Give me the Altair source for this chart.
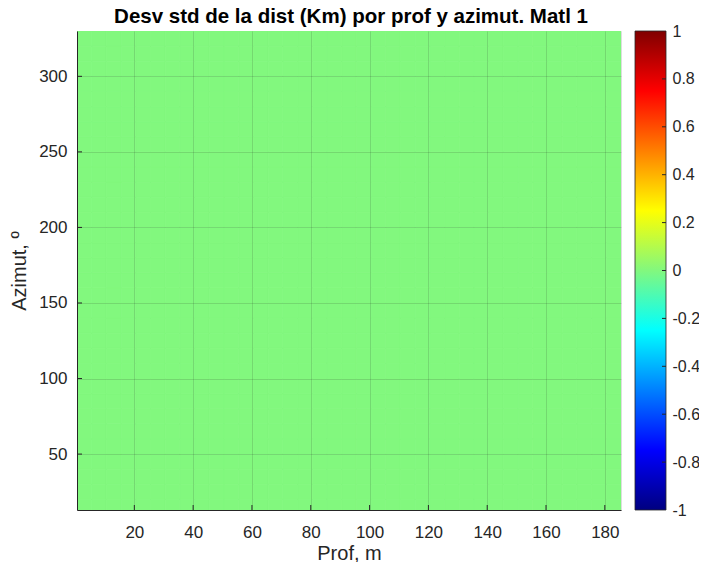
import altair as alt
import pandas as pd

# ---- data ----
chart_title = "Desv std de la dist (Km) por prof y azimut. Matl 1"
prof_edges = [0.5, 5.5, 10.5, 15.5, 20.5, 25.5, 30.5, 35.5, 40.5, 45.5, 50.5, 55.5,
              60.5, 65.5, 70.5, 75.5, 80.5, 85.5, 90.5, 95.5, 100.5, 105.5, 110.5,
              115.5, 120.5, 125.5, 130.5, 135.5, 140.5, 145.5, 150.5, 155.5, 160.5,
              165.5, 170.5, 175.5, 180.5, 185.5]
azim_edges = [10, 20, 30, 40, 50, 60, 70, 80, 90, 100, 110, 120, 130, 140, 150, 160,
              170, 180, 190, 200, 210, 220, 230, 240, 250, 260, 270, 280, 290, 300,
              310, 320, 330]
cell_value = 0.0          # every cell of the map reads 0 (uniform green)
x_ticks = [20, 40, 60, 80, 100, 120, 140, 160, 180]
y_ticks = [50, 100, 150, 200, 250, 300]
cbar_ticks = [-1, -0.8, -0.6, -0.4, -0.2, 0, 0.2, 0.4, 0.6, 0.8, 1]
cbar_range = [-1, 1]
jet_stops = [-1, -0.75, -0.25, 0, 0.25, 0.75, 1]
jet_colors = ["#000080", "#0000ff", "#00ffff", "#82f87e", "#ffff00", "#ff0000", "#800000"]
x_domain = [0.5, 185.5]
y_domain = [13, 330]

rows = []
for i in range(len(prof_edges) - 1):
    for j in range(len(azim_edges) - 1):
        rows.append({"x0": prof_edges[i], "x1": prof_edges[i + 1],
                     "y0": azim_edges[j], "y1": azim_edges[j + 1],
                     "v": cell_value, "vs": cell_value})
cells = pd.DataFrame(rows)

W, H = 544, 479
CB_X0, CB_W = 558, 31
FONT = "Liberation Sans"
TXT = "#262626"

xscale = alt.Scale(domain=x_domain, nice=False, zero=False)
yscale = alt.Scale(domain=y_domain, nice=False, zero=False)
cscale = alt.Scale(domain=jet_stops, range=jet_colors, interpolate="rgb")
sscale = alt.Scale(domain=jet_stops, range=jet_colors, interpolate="rgb")
cbscale = alt.Scale(domain=cbar_range, nice=False, zero=False)

xaxis = alt.Axis(title="Prof, m", values=x_ticks, ticks=False, zindex=1,
                 labelFontSize=17, titleFontSize=20, labelPadding=14,
                 titlePadding=3, labelColor=TXT, titleColor=TXT,
                 titleFontWeight="normal", grid=True, gridColor="#262626",
                 gridOpacity=0.15, domainColor=TXT, labelFont=FONT, titleFont=FONT)
yaxis = alt.Axis(title="Azimut, º", values=y_ticks, ticks=False, zindex=1,
                 labelFontSize=17, titleFontSize=20, labelPadding=10,
                 titlePadding=9, labelColor=TXT, titleColor=TXT,
                 titleFontWeight="normal", grid=True, gridColor="#262626",
                 gridOpacity=0.15, domainColor=TXT, labelFont=FONT, titleFont=FONT)

heat = alt.Chart(cells).mark_rect(strokeWidth=0.8, clip=True).encode(
    x=alt.X("x0:Q", scale=xscale, axis=xaxis),
    x2="x1:Q",
    y=alt.Y("y0:Q", scale=yscale, axis=yaxis),
    y2="y1:Q",
    fill=alt.Color("v:Q", scale=cscale, legend=None),
    stroke=alt.Stroke("vs:Q", scale=sscale, legend=None),
)

xt = alt.Chart(pd.DataFrame({"x0": x_ticks})).mark_rule(color=TXT, strokeWidth=1).encode(
    x=alt.X("x0:Q", scale=xscale, axis=xaxis),
    y=alt.value(H), y2=alt.value(H - 5),
)
yt = alt.Chart(pd.DataFrame({"yt": y_ticks})).mark_rule(color=TXT, strokeWidth=1).encode(
    y=alt.Y("yt:Q", scale=yscale, axis=None),
    x=alt.value(0), x2=alt.value(5),
)

# colour bar (jet), drawn as one rect with a gradient built from the colormap stops
grad = alt.LinearGradient(
    gradient="linear", x1=0, x2=0, y1=1, y2=0,
    stops=[alt.GradientStop(color=c, offset=(s - cbar_range[0]) / (cbar_range[1] - cbar_range[0]))
           for s, c in zip(jet_stops, jet_colors)],
)
cbar = alt.Chart(pd.DataFrame({"c0": [cbar_range[0]], "c1": [cbar_range[1]]})).mark_rect(
    fill=grad, stroke=TXT, strokeWidth=0.8
).encode(
    y=alt.Y("c0:Q", scale=cbscale,
            axis=alt.Axis(orient="right", offset=CB_X0 + CB_W - W, values=cbar_ticks,
                          ticks=False, domain=False, grid=False, title=None,
                          labelFontSize=16, labelPadding=6, labelColor=TXT,
                          labelFont=FONT, labelFlush=False, labelOverlap=False,
                          labelExpr="'' + datum.value")),
    y2="c1:Q",
    x=alt.value(CB_X0), x2=alt.value(CB_X0 + CB_W),
)
cbt = alt.Chart(pd.DataFrame({"ct": cbar_ticks[1:-1]})).mark_rule(color=TXT, strokeWidth=1).encode(
    y=alt.Y("ct:Q", scale=cbscale, axis=None),
    x=alt.value(CB_X0 + CB_W - 4), x2=alt.value(CB_X0 + CB_W),
)

ttl = alt.Chart(pd.DataFrame({"t": [chart_title]})).mark_text(
    font=FONT, fontSize=20.5, fontWeight="bold", color="#000000",
    align="center", baseline="alphabetic"
).encode(
    x=alt.value(W / 2 + 2), y=alt.value(-8), text="t:N",
)

chart = alt.layer(heat, xt, yt, cbar, cbt, ttl).resolve_scale(y="independent").properties(
    width=W, height=H,
    autosize=alt.AutoSizeParams(type="none"),
    padding={"left": 69, "top": 23, "right": 78, "bottom": 52},
).configure_view(stroke=TXT, strokeWidth=1).configure(background="white")

chart.save("out.html", embed_options={"renderer": "svg", "actions": False})
